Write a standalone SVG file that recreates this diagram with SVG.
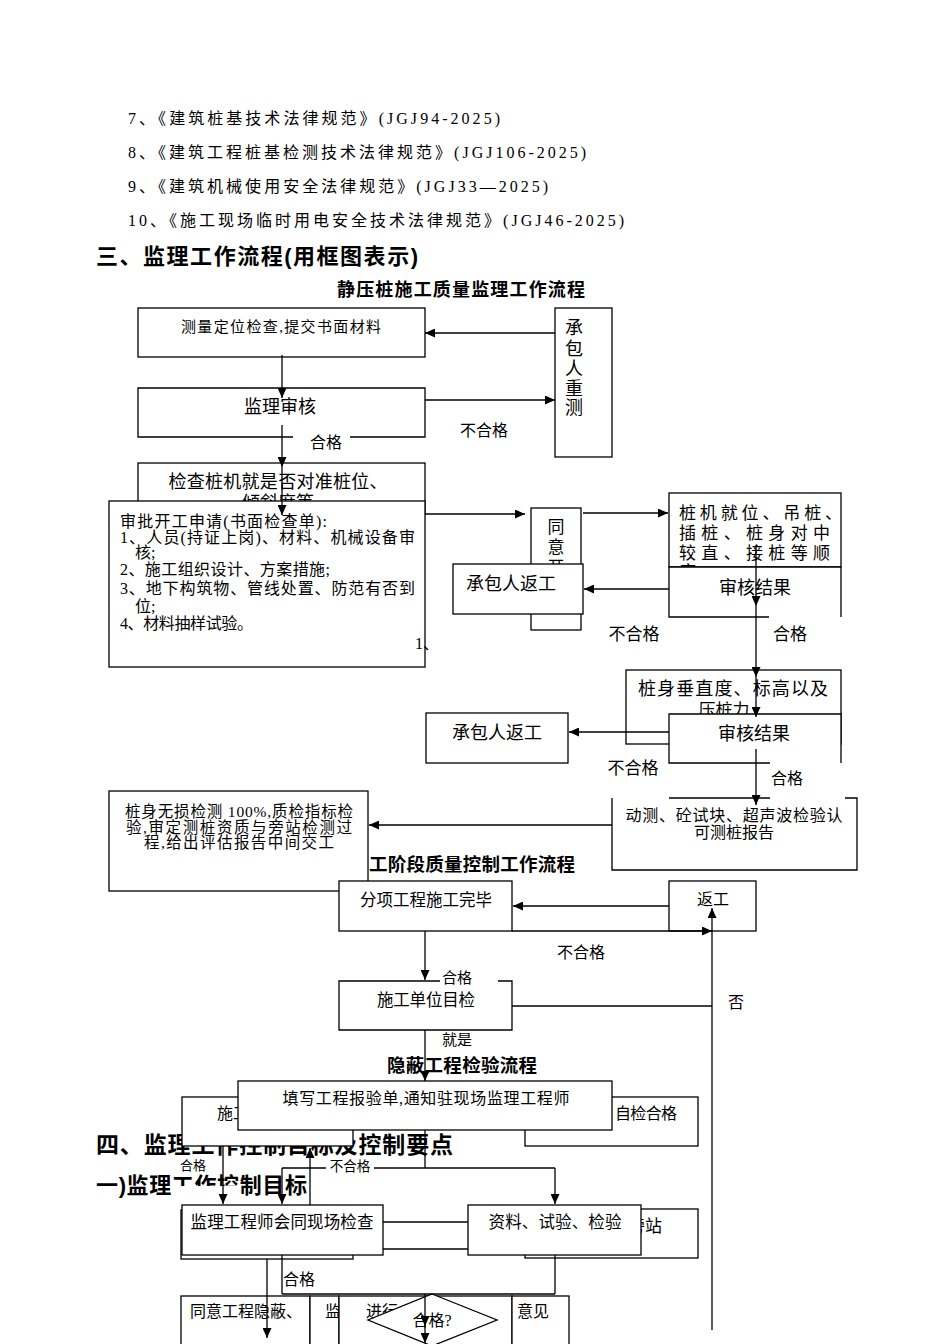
<svg xmlns="http://www.w3.org/2000/svg" width="950" height="1344" viewBox="0 0 950 1344">
<style>
.t{font-family:"Liberation Serif","Noto Sans CJK SC",serif;fill:#000}
.h{font-family:"Liberation Sans","Noto Sans CJK SC",sans-serif;font-weight:bold;fill:#000}
.m{text-anchor:middle}
.b{fill:#fff;stroke:#000;stroke-width:1.3}
.bo{fill:none;stroke:#000;stroke-width:1.3}
.w{fill:#fff;stroke:none}
.c{fill:none;stroke:#000;stroke-width:1.3}
.a{marker-end:url(#ah)}
</style>
<defs>
<marker id="ah" viewBox="0 0 10 9" refX="10" refY="4.5" markerWidth="10" markerHeight="9" markerUnits="userSpaceOnUse" orient="auto"><path d="M0,0 L10,4.5 L0,9 z" fill="#000"/></marker>
</defs>
<rect width="950" height="1344" fill="#fff"/>

<g id="intro">
<text class="t" x="128" y="124" font-size="16" textLength="372" lengthAdjust="spacing">7、《建筑桩基技术法律规范》(JGJ94-2025)</text>
<text class="t" x="128" y="158" font-size="16" textLength="458" lengthAdjust="spacing">8、《建筑工程桩基检测技术法律规范》(JGJ106-2025)</text>
<text class="t" x="128" y="192" font-size="16" textLength="420" lengthAdjust="spacing">9、《建筑机械使用安全法律规范》(JGJ33—2025)</text>
<text class="t" x="128" y="226" font-size="16" textLength="496" lengthAdjust="spacing">10、《施工现场临时用电安全技术法律规范》(JGJ46-2025)</text>
<text class="h" x="96" y="264" font-size="22" textLength="322" lengthAdjust="spacing">三、监理工作流程(用框图表示)</text>
<text class="h" x="337" y="296" font-size="18" textLength="248" lengthAdjust="spacing">静压桩施工质量监理工作流程</text>
</g>

<g id="n-survey">
<rect class="b" x="138" y="308" width="287" height="49"/>
<text class="t m" x="281" y="332" font-size="15" textLength="200" lengthAdjust="spacing">测量定位检查,提交书面材料</text>
</g>
<g id="n-resurvey">
<rect class="b" x="555" y="308" width="57" height="149"/>
<text class="t m" x="574" y="334" font-size="18">承</text>
<text class="t m" x="574" y="355" font-size="18">包</text>
<text class="t m" x="574" y="375" font-size="18">人</text>
<text class="t m" x="574" y="395" font-size="18">重</text>
<text class="t m" x="574" y="414" font-size="18">测</text>
</g>
<g id="n-review">
<rect class="w" x="138" y="388" width="287" height="49"/>
<path class="bo" d="M293,437 H138 V388 H425 V437 H350"/>
<text class="t m" x="280" y="413" font-size="18">监理审核</text>
</g>
<g id="n-check-rig">
<rect class="b" x="138" y="463" width="287" height="50"/>
<text class="t m" x="278" y="488" font-size="18" textLength="219" lengthAdjust="spacing">检查桩机就是否对准桩位、</text>
<text class="t m" x="278" y="509" font-size="18">倾斜度等</text>
</g>
<g id="n-approve">
<rect class="b" x="109" y="501" width="316" height="166"/>
<text class="t" x="120" y="527" font-size="16" textLength="207" lengthAdjust="spacing">审批开工申请(书面检查单):</text>
<text class="t" x="120" y="543" font-size="16" textLength="295" lengthAdjust="spacing">1、人员(持证上岗)、材料、机械设备审</text>
<text class="t" x="135" y="558" font-size="16">核;</text>
<text class="t" x="120" y="575" font-size="16" textLength="210" lengthAdjust="spacing">2、施工组织设计、方案措施;</text>
<text class="t" x="120" y="594" font-size="16" textLength="295" lengthAdjust="spacing">3、地下构筑物、管线处置、防范有否到</text>
<text class="t" x="135" y="612" font-size="16">位;</text>
<text class="t" x="120" y="629" font-size="16" textLength="133" lengthAdjust="spacing">4、材料抽样试验。</text>
<text class="t" x="415" y="649" font-size="16">1、</text>
</g>
<g id="n-agree">
<rect class="b" x="531" y="508" width="50" height="122"/>
<text class="t m" x="556" y="533" font-size="17">同</text>
<text class="t m" x="556" y="553" font-size="17">意</text>
<text class="t m" x="556" y="573" font-size="17">开</text>
</g>
<g id="n-rework1">
<rect class="b" x="453" y="564" width="130" height="50"/>
<text class="t m" x="511" y="590" font-size="18">承包人返工</text>
</g>
<g id="n-piling">
<rect class="b" x="669" y="493" width="172" height="74"/>
<text class="t" x="679" y="519" font-size="17" textLength="163" lengthAdjust="spacing">桩机就位、吊桩、</text>
<text class="t" x="679" y="539" font-size="17" textLength="151" lengthAdjust="spacing">插桩、桩身对中</text>
<text class="t" x="679" y="559" font-size="17" textLength="151" lengthAdjust="spacing">较直、接桩等顺</text>
<text class="t" x="679" y="578" font-size="17">序</text>
</g>
<g id="n-result1">
<rect class="w" x="669" y="567" width="172" height="50"/>
<path class="bo" d="M769,617 H669 V567 H841 V617"/>
<text class="t m" x="755" y="594" font-size="18">审核结果</text>
</g>
<g id="n-vertical">
<rect class="b" x="626" y="670" width="215" height="74"/>
<text class="t m" x="733" y="695" font-size="18" textLength="190" lengthAdjust="spacing">桩身垂直度、标高以及</text>
<text class="t m" x="724" y="716" font-size="17">压桩力</text>
</g>
<g id="n-result2">
<rect class="w" x="669" y="714" width="172" height="49"/>
<path class="bo" d="M770,763 H669 V714 H841 V763"/>
<text class="t m" x="754" y="740" font-size="18">审核结果</text>
</g>
<g id="n-rework2">
<rect class="b" x="426" y="713" width="142" height="50"/>
<text class="t m" x="497" y="739" font-size="18">承包人返工</text>
</g>
<g id="n-dyn">
<rect class="w" x="612" y="798" width="245" height="72"/>
<path class="bo" d="M669,798 H770 M845,798 H857 V870 H612 V798"/>
<text class="t m" x="734" y="821" font-size="16" textLength="217" lengthAdjust="spacing">动测、砼试块、超声波检验认</text>
<text class="t m" x="734" y="838" font-size="16">可测桩报告</text>
</g>
<g id="n-ndt">
<rect class="b" x="109" y="791" width="259" height="100"/>
<text class="t m" x="239" y="817" font-size="15.5" textLength="228" lengthAdjust="spacing">桩身无损检测 100%,质检指标检</text>
<text class="t m" x="239" y="833" font-size="15.5" textLength="226" lengthAdjust="spacing">验,审定测桩资质与旁站检测过</text>
<text class="t m" x="239" y="848" font-size="15.5" textLength="190" lengthAdjust="spacing">程,给出评估报告中间交工</text>
</g>

<text class="h" x="369" y="871" font-size="18.5" textLength="206" lengthAdjust="spacing">工阶段质量控制工作流程</text>

<g id="n-done">
<rect class="b" x="339" y="881" width="173" height="50"/>
<text class="t m" x="426" y="906" font-size="16.5" textLength="132" lengthAdjust="spacing">分项工程施工完毕</text>
</g>
<g id="n-rework3">
<rect class="b" x="669" y="881" width="87" height="50"/>
<text class="t m" x="713" y="905" font-size="16">返工</text>
</g>
<g id="n-selfcheck">
<rect class="w" x="339" y="981" width="173" height="49"/>
<path class="bo" d="M440,981 H339 V1030 H512 V981 H498"/>
<text class="t m" x="426" y="1006" font-size="16.5" textLength="98" lengthAdjust="spacing">施工单位目检</text>
</g>

<text class="h m" x="462" y="1072" font-size="18.5" textLength="150" lengthAdjust="spacing">隐蔽工程检验流程</text>
<text class="h" x="96" y="1153" font-size="23" textLength="357" lengthAdjust="spacing">四、监理工作控制目标及控制要点</text>
<text class="h" x="96" y="1193" font-size="22" textLength="211" lengthAdjust="spacing">一)监理工作控制目标</text>
<rect class="w" x="172" y="1186" width="68" height="13"/>

<g id="n-constr">
<rect class="b" x="182" y="1097" width="171" height="49"/>
<text class="t" x="217" y="1119" font-size="16">施工</text>
</g>
<g id="n-selfok">
<rect class="b" x="525" y="1097" width="173" height="49"/>
<text class="t" x="615" y="1119" font-size="16" textLength="62" lengthAdjust="spacing">自检合格</text>
</g>
<g id="n-report">
<rect class="b" x="238" y="1081" width="374" height="49"/>
<text class="t m" x="426" y="1104" font-size="16" textLength="287" lengthAdjust="spacing">填写工程报验单,通知驻现场监理工程师</text>
</g>
<g id="n-insp-back">
<rect class="b" x="181" y="1210" width="172" height="49"/>
</g>
<g id="n-insp">
<rect class="b" x="182" y="1205" width="201" height="50"/>
<text class="t m" x="282" y="1228" font-size="16.5" textLength="183" lengthAdjust="spacing">监理工程师会同现场检查</text>
</g>
<g id="n-side">
<rect class="b" x="525" y="1209" width="173" height="49"/>
<text class="t" x="628" y="1232" font-size="17">旁站</text>
</g>
<g id="n-data">
<rect class="b" x="468" y="1205" width="173" height="50"/>
<text class="t m" x="555" y="1228" font-size="16.5" textLength="133" lengthAdjust="spacing">资料、试验、检验</text>
</g>
<g id="n-agree-hide">
<rect class="b" x="181" y="1296" width="129" height="60"/>
<text class="t" x="190" y="1317" font-size="16" textLength="112" lengthAdjust="spacing">同意工程隐蔽、</text>
</g>
<g id="n-sup">
<rect class="b" x="310" y="1296" width="29" height="60"/>
<text class="t" x="325" y="1317" font-size="16">监</text>
</g>
<g id="n-proc">
<rect class="b" x="339" y="1296" width="173" height="60"/>
<text class="t" x="366" y="1317" font-size="16">进行</text>
</g>
<g id="n-opinion">
<rect class="b" x="512" y="1296" width="57" height="60"/>
<text class="t" x="517" y="1317" font-size="16">意见</text>
</g>
<g id="n-ok">
<polygon class="b" points="432,1294 497,1320 432,1346 368,1320"/>
<text class="t m" x="432" y="1326" font-size="16">合格?</text>
</g>

<g id="connectors">
<line class="c a" x1="555" y1="333" x2="425" y2="333"/>
<line class="c a" x1="282" y1="355" x2="282" y2="398"/>
<line class="c a" x1="425" y1="400" x2="555" y2="400"/>
<line class="c a" x1="282" y1="425" x2="282" y2="467"/>
<line class="c a" x1="282" y1="467" x2="282" y2="515"/>
<line class="c a" x1="425" y1="514" x2="525" y2="514"/>
<line class="c a" x1="583" y1="513" x2="668" y2="513"/>
<line class="c a" x1="669" y1="589" x2="584" y2="589"/>
<line class="c a" x1="756" y1="545" x2="756" y2="606"/>
<line class="c a" x1="756" y1="606" x2="756" y2="677"/>
<line class="c a" x1="756" y1="677" x2="756" y2="717"/>
<line class="c a" x1="669" y1="732" x2="569" y2="732"/>
<line class="c a" x1="756" y1="749" x2="756" y2="805"/>
<line class="c a" x1="612" y1="825" x2="369" y2="825"/>
<line class="c a" x1="669" y1="906" x2="513" y2="906"/>
<line class="c a" x1="512" y1="931" x2="712" y2="931"/>
<line class="c a" x1="425" y1="931" x2="425" y2="980"/>
<line class="c" x1="512" y1="1006" x2="712" y2="1006"/>
<line class="c a" x1="712" y1="1330" x2="712" y2="908"/>
<line class="c a" x1="425" y1="1030" x2="425" y2="1081"/>
<line class="c" x1="425" y1="1130" x2="425" y2="1168"/>
<line class="c" x1="282" y1="1168" x2="555" y2="1168"/>
<line class="c a" x1="282" y1="1168" x2="282" y2="1204"/>
<line class="c a" x1="555" y1="1168" x2="555" y2="1204"/>
<line class="c a" x1="223" y1="1146" x2="223" y2="1204"/>
<line class="c a" x1="310" y1="1205" x2="310" y2="1148"/>
<line class="c" x1="383" y1="1222" x2="468" y2="1222"/>
<line class="c" x1="383" y1="1249" x2="468" y2="1249"/>
<line class="c" x1="282" y1="1255" x2="282" y2="1294"/>
<line class="c" x1="555" y1="1255" x2="555" y2="1294"/>
<line class="c" x1="282" y1="1294" x2="555" y2="1294"/>
<line class="c a" x1="267" y1="1259" x2="267" y2="1338"/>
<line class="c a" x1="425" y1="1294" x2="425" y2="1326"/>
<line class="c a" x1="425" y1="1326" x2="425" y2="1343"/>
</g>

<g id="labels">
<text class="t m" x="326" y="448" font-size="16">合格</text>
<text class="t m" x="484" y="436" font-size="16">不合格</text>
<text class="t m" x="634" y="640" font-size="17">不合格</text>
<text class="t m" x="790" y="640" font-size="17">合格</text>
<text class="t m" x="633" y="774" font-size="17">不合格</text>
<text class="t m" x="787" y="784" font-size="16">合格</text>
<text class="t m" x="581" y="958" font-size="16">不合格</text>
<text class="t m" x="457" y="983" font-size="15">合格</text>
<text class="t m" x="736" y="1008" font-size="16">否</text>
<text class="t m" x="457" y="1045" font-size="15">就是</text>
<text class="t m" x="193" y="1170" font-size="13">合格</text>
<rect class="w" x="326" y="1160" width="48" height="13"/>
<text class="t m" x="350" y="1171" font-size="13.5">不合格</text>
<text class="t m" x="299" y="1285" font-size="16">合格</text>
</g>
</svg>
